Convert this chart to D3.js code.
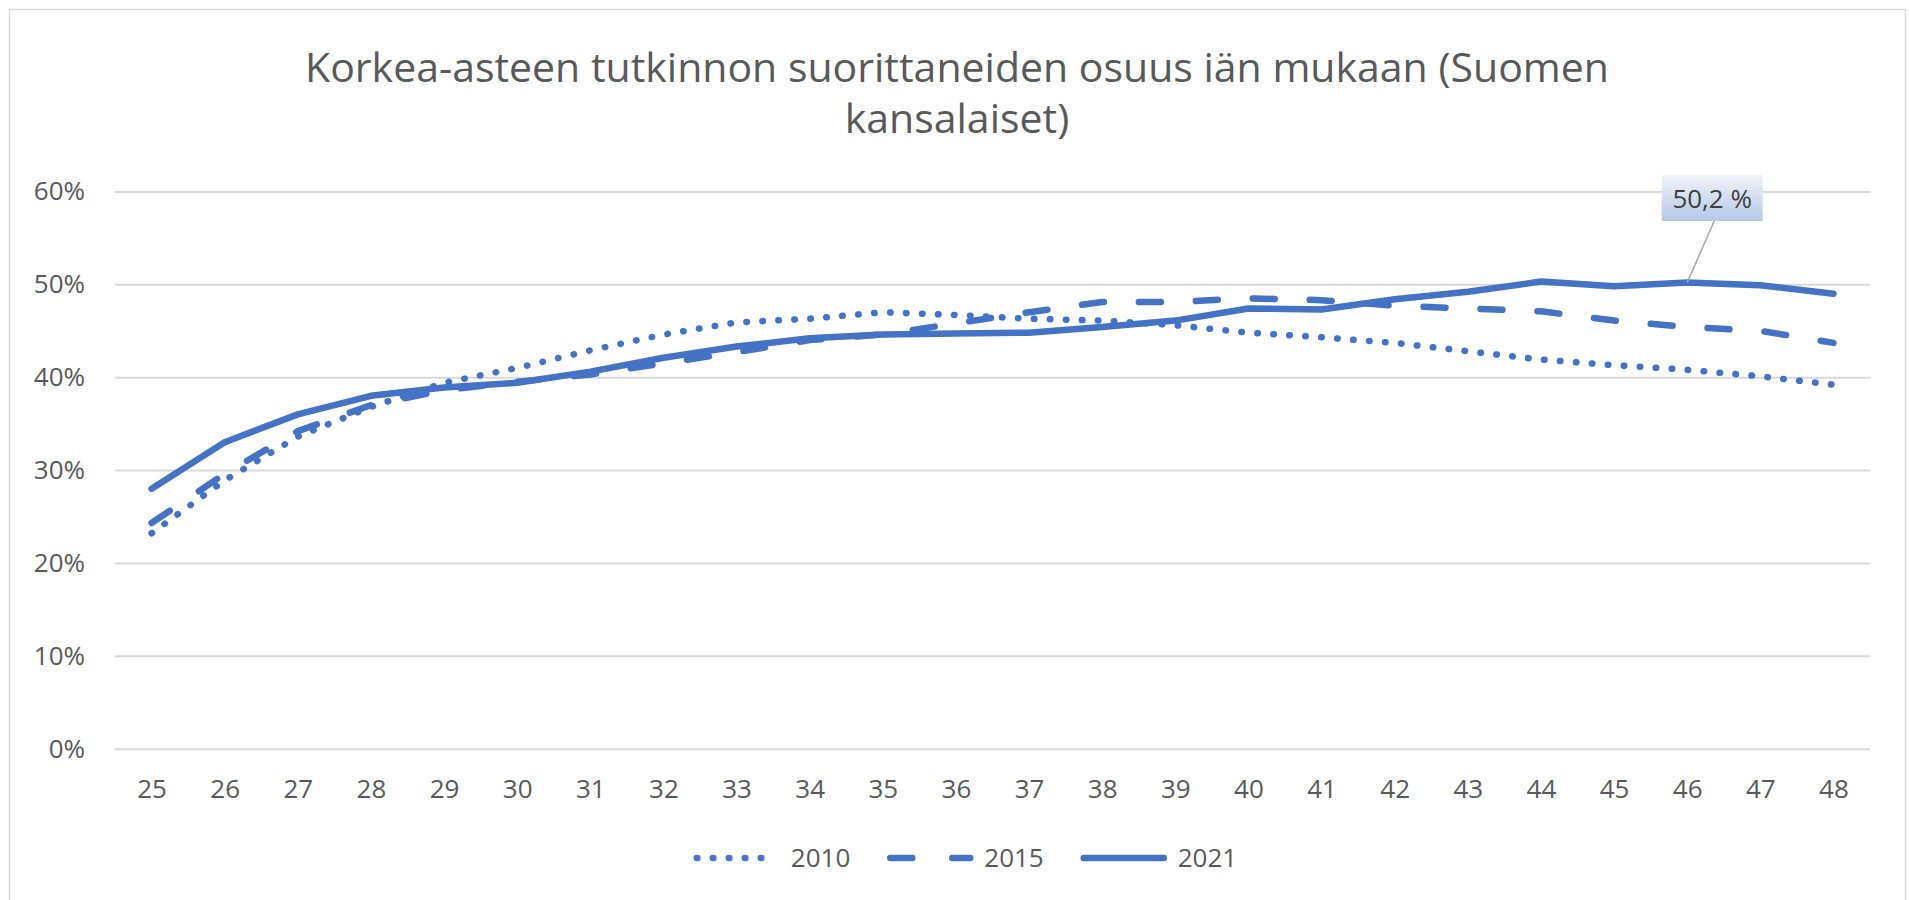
<!DOCTYPE html>
<html>
<head>
<meta charset="utf-8">
<script src="https://cdn.jsdelivr.net/npm/d3@7"></script>
<style>
  html, body { margin: 0; padding: 0; background: #fff; }
  svg { display: block; font-family: "Open Sans", "Noto Sans", sans-serif; }
</style>
</head>
<body>
<div id="chart"></div>
<script>
const ages = d3.range(25, 49);
const v2010 = [23.2, 28.9, 33.6, 36.8, 39.4, 41.0, 42.9, 44.6, 45.9, 46.3, 47.0, 46.7, 46.3, 46.1, 45.6, 44.8, 44.3, 43.7, 42.8, 41.9, 41.3, 40.8, 40.1, 39.2];
const v2015 = [24.3, 29.6, 34.2, 37.0, 38.6, 39.5, 40.3, 41.5, 42.7, 44.0, 44.6, 45.8, 47.0, 48.1, 48.1, 48.5, 48.3, 47.7, 47.4, 47.1, 46.1, 45.4, 45.0, 43.7];
const v2021 = [28.0, 33.0, 36.0, 38.0, 38.9, 39.4, 40.6, 42.1, 43.3, 44.2, 44.6, 44.7, 44.8, 45.4, 46.1, 47.4, 47.3, 48.4, 49.2, 50.3, 49.8, 50.2, 49.9, 49.0];
const seriesNames = ['2010', '2015', '2021'];
const yTicks = [0, 10, 20, 30, 40, 50, 60];
const titleLines = ['Korkea-asteen tutkinnon suorittaneiden osuus iän mukaan (Suomen', 'kansalaiset)'];
const labelAge = 46;
const labelText = '50,2 %';

const W = 1910, H = 900;
const blue = '#4472c4';
const textCol = '#595959';

const svg = d3.select('#chart').append('svg').attr('width', W).attr('height', H);

// chart area border
svg.append('rect').attr('x', 9.5).attr('y', 9.5).attr('width', 1896).attr('height', 900)
  .attr('fill', '#fff').attr('stroke', '#d9d9d9').attr('stroke-width', 1.5);

// title
svg.append('g').selectAll('text').data(titleLines).join('text')
  .attr('x', 957).attr('y', (d, i) => 82 + i * 51)
  .attr('text-anchor', 'middle')
  .attr('fill', textCol)
  .style('font-size', '41px')
  .text(d => d);

const x = d3.scalePoint().domain(ages).range([115, 1870]).padding(0.5);
const y = d3.scaleLinear().domain([0, 60]).range([748.7, 191.5]);

// y grid + labels
const yAxis = svg.append('g').attr('transform', 'translate(115,0)')
  .call(d3.axisLeft(y).tickValues(yTicks).tickFormat(d => d + '%').tickSize(-(1870 - 115)).tickPadding(30));
yAxis.select('.domain').remove();
yAxis.selectAll('.tick line').attr('stroke', '#d9d9d9').attr('stroke-width', 2);
yAxis.selectAll('.tick text').attr('fill', textCol).style('font-size', '26px').style('font-family', '"Open Sans", sans-serif');

// x labels
const xAxis = svg.append('g').attr('transform', `translate(0,${y(0)})`)
  .call(d3.axisBottom(x).tickSize(0));
xAxis.select('.domain').remove();
xAxis.selectAll('.tick text').attr('y', 49).attr('dy', null)
  .attr('fill', textCol).style('font-size', '26px').style('font-family', '"Open Sans", sans-serif');

const styles = {
  '2010': { dash: '0.5 15.5' },
  '2015': { dash: '22 35' },
  '2021': { dash: null }
};
const series = [
  { name: '2010', values: v2010 },
  { name: '2015', values: v2015 },
  { name: '2021', values: v2021 }
];

const line = d3.line().x((d, i) => x(ages[i])).y(d => y(d));

svg.append('g').selectAll('path').data(series).join('path')
  .attr('d', d => line(d.values))
  .attr('fill', 'none')
  .attr('stroke', blue)
  .attr('stroke-width', 6.5)
  .attr('stroke-linecap', 'round')
  .attr('stroke-linejoin', 'round')
  .attr('stroke-dasharray', d => styles[d.name].dash);

// data label for 2021 at age 46
const li = ages.indexOf(labelAge);
const px = x(labelAge), py = y(v2021[li]);
const defs = svg.append('defs');
const grad = defs.append('linearGradient').attr('id', 'lblGrad').attr('x1', 0).attr('y1', 0).attr('x2', 0).attr('y2', 1);
grad.append('stop').attr('offset', '0%').attr('stop-color', '#f0f4fa');
grad.append('stop').attr('offset', '100%').attr('stop-color', '#b4c8e6');

const bw = 101, bh = 46;
const bx = px + 25 - bw / 2, by = py - 61.5 - bh;
svg.append('line')
  .attr('x1', px + 27).attr('y1', by + bh)
  .attr('x2', px).attr('y2', py)
  .attr('stroke', '#a6a6a6').attr('stroke-width', 1.5);
svg.append('rect').attr('x', bx).attr('y', by).attr('width', bw).attr('height', bh)
  .attr('fill', 'url(#lblGrad)');
svg.append('text').attr('x', bx + bw / 2).attr('y', by + 33)
  .attr('text-anchor', 'middle').attr('fill', '#404040')
  .style('font-size', '26px').text(labelText);

// legend
const legend = svg.append('g');
const ly = 858, sampleLen = 88;
let cx = 0;
series.forEach(s => {
  const g = legend.append('g').attr('transform', `translate(${cx},0)`);
  g.append('line').attr('x1', 4).attr('x2', sampleLen - 4).attr('y1', ly).attr('y2', ly)
    .attr('stroke', blue).attr('stroke-width', 6.5).attr('stroke-linecap', 'round')
    .attr('stroke-dasharray', s.name === '2015' ? '22 40' : styles[s.name].dash);
  const t = g.append('text').attr('x', sampleLen + 10).attr('y', ly + 9)
    .attr('fill', textCol).style('font-size', '26px').text(s.name);
  cx += sampleLen + 10 + t.node().getComputedTextLength() + 36;
});
const lw = cx - 36;
legend.attr('transform', `translate(${965 - lw / 2},0)`);
</script>
</body>
</html>
